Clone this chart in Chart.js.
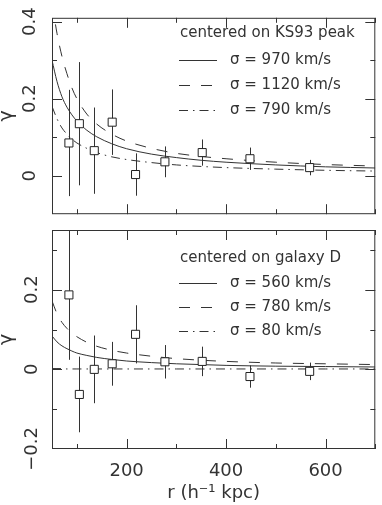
<!DOCTYPE html>
<html>
<head>
<meta charset="utf-8">
<script src="https://cdn.jsdelivr.net/npm/chart.js@4.4.0/dist/chart.umd.min.js"></script>
<style>
  html, body { margin: 0; padding: 0; background: #fff; }
  #wrap { position: relative; width: 382px; height: 505px; overflow: hidden; }
  canvas { position: absolute; left: 0; }
  #top { top: 0; }
  #bottom { top: 218px; }
</style>
</head>
<body>
<div id="wrap">
  <canvas id="top" width="382" height="232"></canvas>
  <canvas id="bottom" width="382" height="287"></canvas>
</div>
<script>
// radii of the measured points (h^-1 kpc)
const radii = [84, 105, 135, 171, 218, 277, 352, 448, 568]

// top panel: centered on KS93 peak
const gammaKS = [0.085, 0.135, 0.065, 0.139, 0.003, 0.036, 0.060, 0.044, 0.021]
const errKS = [0.138, 0.160, 0.112, 0.085, 0.055, 0.040, 0.034, 0.029, 0.020]

// bottom panel: centered on galaxy D
const gammaD = [0.187, -0.063, 0.000, 0.014, 0.088, 0.019, 0.020, -0.018, -0.005]
const errD = [0.163, 0.095, 0.085, 0.055, 0.073, 0.042, 0.037, 0.028, 0.022]

// model curves
const rModel = [50, 60, 70, 80, 90, 100, 120, 140, 170, 200, 250, 300, 350, 400, 500, 600, 700]
const ks970 = [0.300, 0.245, 0.205, 0.178, 0.158, 0.142, 0.118, 0.101, 0.083, 0.070, 0.056, 0.047, 0.040, 0.035, 0.028, 0.023, 0.020]
const ks1120 = [0.450, 0.370, 0.310, 0.265, 0.228, 0.200, 0.160, 0.134, 0.108, 0.090, 0.071, 0.058, 0.050, 0.044, 0.035, 0.029, 0.025]
const ks790 = [0.180, 0.148, 0.124, 0.108, 0.095, 0.085, 0.071, 0.060, 0.049, 0.042, 0.034, 0.028, 0.024, 0.021, 0.017, 0.014, 0.012]
const d560 = [0.084, 0.069, 0.059, 0.052, 0.046, 0.041, 0.035, 0.030, 0.025, 0.021, 0.017, 0.014, 0.012, 0.010, 0.008, 0.007, 0.006]
const d780 = [0.172, 0.140, 0.118, 0.103, 0.091, 0.082, 0.068, 0.058, 0.048, 0.041, 0.033, 0.027, 0.023, 0.020, 0.016, 0.014, 0.012]
const d80 = [0.002, 0.002, 0.002, 0.001, 0.001, 0.001, 0.001, 0.001, 0.001, 0.001, 0.001, 0.001, 0.001, 0.001, 0.001, 0.001, 0.001]

const xTicks = [200, 400, 600]
const xMinor = [100, 300, 500, 700]
const yTicksKS = [0, 0.2, 0.4]
const yMinorKS = [-0.1, 0.1, 0.3]
const yTicksD = [-0.2, 0, 0.2]
const yMinorD = [-0.1, 0.1, 0.3]

const legendKS = ['centered on KS93 peak', 'σ = 970 km/s', 'σ = 1120 km/s', 'σ = 790 km/s']
const legendD = ['centered on galaxy D', 'σ = 560 km/s', 'σ = 780 km/s', 'σ = 80 km/s']

const FONT = "'DejaVu Sans', sans-serif"
const INK = '#333'
const SOLID = []
const DASH = [11, 11]
const DASHDOT = [9, 5, 1.5, 5]

const fmt = v => v === 0 ? '0' : (v < 0 ? '\u2212' : '') + Math.abs(v).toFixed(1)

function curve(ys, dash) {
  return {
    type: 'line',
    data: rModel.map((r, i) => ({ x: r, y: ys[i] })),
    borderColor: INK,
    borderWidth: 1,
    borderDash: dash,
    pointRadius: 0,
    cubicInterpolationMode: 'monotone',
    fill: false
  }
}

function points(gs) {
  return {
    type: 'scatter',
    data: radii.map((r, i) => ({ x: r, y: gs[i] })),
    pointStyle: 'rect',
    pointRadius: 5.7,
    pointBorderWidth: 1,
    pointBorderColor: '#222',
    pointBackgroundColor: '#fff',
    showLine: false
  }
}

// error bars, frame, inward ticks and the in-panel key
function decor(cfg) {
  return {
    id: 'decor',
    beforeDatasetsDraw(chart) {
      const { ctx, chartArea: a, scales: { x, y } } = chart
      ctx.save()
      ctx.beginPath()
      ctx.rect(a.left, a.top, a.right - a.left, a.bottom - a.top)
      ctx.clip()
      ctx.strokeStyle = INK
      ctx.lineWidth = 1
      ctx.beginPath()
      cfg.gamma.forEach((g, i) => {
        const px = Math.round(x.getPixelForValue(radii[i])) + 0.5
        ctx.moveTo(px, y.getPixelForValue(g + cfg.err[i]))
        ctx.lineTo(px, y.getPixelForValue(g - cfg.err[i]))
      })
      ctx.stroke()
      ctx.restore()
    },
    afterDraw(chart) {
      const { ctx, chartArea: a, scales: { x, y } } = chart
      ctx.save()
      ctx.strokeStyle = INK
      ctx.lineWidth = 1
      ctx.strokeRect(a.left + 0.5, a.top + 0.5, a.right - a.left - 1, a.bottom - a.top - 1)

      ctx.beginPath()
      const xt = (v, len) => {
        const px = Math.round(x.getPixelForValue(v)) + 0.5
        ctx.moveTo(px, a.bottom); ctx.lineTo(px, a.bottom - len)
        ctx.moveTo(px, a.top); ctx.lineTo(px, a.top + len)
      }
      const yt = (v, len) => {
        const py = Math.round(y.getPixelForValue(v)) + 0.5
        if (py < a.top + 1 || py > a.bottom - 1) return
        ctx.moveTo(a.left, py); ctx.lineTo(a.left + len, py)
        ctx.moveTo(a.right, py); ctx.lineTo(a.right - len, py)
      }
      xTicks.forEach(v => xt(v, 10))
      xMinor.forEach(v => xt(v, 5))
      cfg.yTicks.forEach(v => yt(v, 10))
      cfg.yMinor.forEach(v => yt(v, 5))
      ctx.stroke()

      // key
      ctx.fillStyle = INK
      ctx.font = '15px ' + FONT
      ctx.textBaseline = 'middle'
      ctx.textAlign = 'left'
      const rows = cfg.rows
      ctx.fillText(cfg.legend[0], 180, rows[0])
      const dashes = [SOLID, DASH, DASHDOT]
      for (let i = 1; i < 4; i++) {
        const ly = Math.round(rows[i]) + 0.5
        ctx.setLineDash(dashes[i - 1])
        ctx.beginPath()
        ctx.moveTo(179, ly)
        ctx.lineTo(217, ly)
        ctx.stroke()
        ctx.setLineDash([])
        ctx.fillText(cfg.legend[i], 230, rows[i])
      }
      ctx.restore()
    }
  }
}

function yScale(min, max, ticks, pad) {
  return {
    type: 'linear',
    min: min,
    max: max,
    afterBuildTicks: s => { s.ticks = ticks.map(value => ({ value })) },
    afterFit: s => { s.width = 52 },
    grid: { display: false, drawTicks: false },
    border: { display: false },
    ticks: {
      minRotation: 90,
      maxRotation: 90,
      crossAlign: 'center',
      padding: pad,
      color: INK,
      font: { family: FONT, size: 18 },
      callback: v => fmt(v)
    },
    title: {
      display: true,
      text: 'γ',
      color: INK,
      padding: { top: -2, bottom: 0 },
      font: { family: FONT, size: 19, lineHeight: 1 }
    }
  }
}

Chart.defaults.animation = false

new Chart(document.getElementById('top'), {
  type: 'scatter',
  data: {
    datasets: [points(gammaKS), curve(ks970, SOLID), curve(ks1120, DASH), curve(ks790, DASHDOT)]
  },
  options: {
    responsive: false,
    devicePixelRatio: 1,
    layout: { padding: { top: 12, right: 1, bottom: 2, left: 0 } },
    plugins: { legend: { display: false }, tooltip: { enabled: false } },
    scales: {
      x: { type: 'linear', min: 50, max: 700, display: false },
      y: yScale(-0.1, 0.41, yTicksKS, 7)
    }
  },
  plugins: [decor({ gamma: gammaKS, err: errKS, yTicks: yTicksKS, yMinor: yMinorKS, legend: legendKS, rows: [33, 60, 85, 110] })]
})

new Chart(document.getElementById('bottom'), {
  type: 'scatter',
  data: {
    datasets: [points(gammaD), curve(d560, SOLID), curve(d780, DASH), curve(d80, DASHDOT)]
  },
  options: {
    responsive: false,
    devicePixelRatio: 1,
    layout: { padding: { top: 12, right: 1, bottom: 0, left: 0 } },
    plugins: { legend: { display: false }, tooltip: { enabled: false } },
    scales: {
      x: {
        type: 'linear',
        min: 50,
        max: 700,
        afterBuildTicks: s => { s.ticks = xTicks.map(value => ({ value })) },
        afterFit: s => { s.height = 56 },
        grid: { display: false, drawTicks: false },
        border: { display: false },
        ticks: { padding: 12, maxRotation: 0, color: INK, font: { family: FONT, size: 18 } },
        title: {
          display: true,
          text: 'r (h\u207B\u00B9 kpc)',
          color: INK,
          padding: { top: 0, bottom: 1 },
          font: { family: FONT, size: 18 }
        }
      },
      y: yScale(-0.2, 0.35, yTicksD, -2)
    }
  },
  plugins: [decor({ gamma: gammaD, err: errD, yTicks: yTicksD, yMinor: yMinorD, legend: legendD, rows: [28, 53, 77, 101].map(v => v + 12) })]
})
</script>
</body>
</html>
